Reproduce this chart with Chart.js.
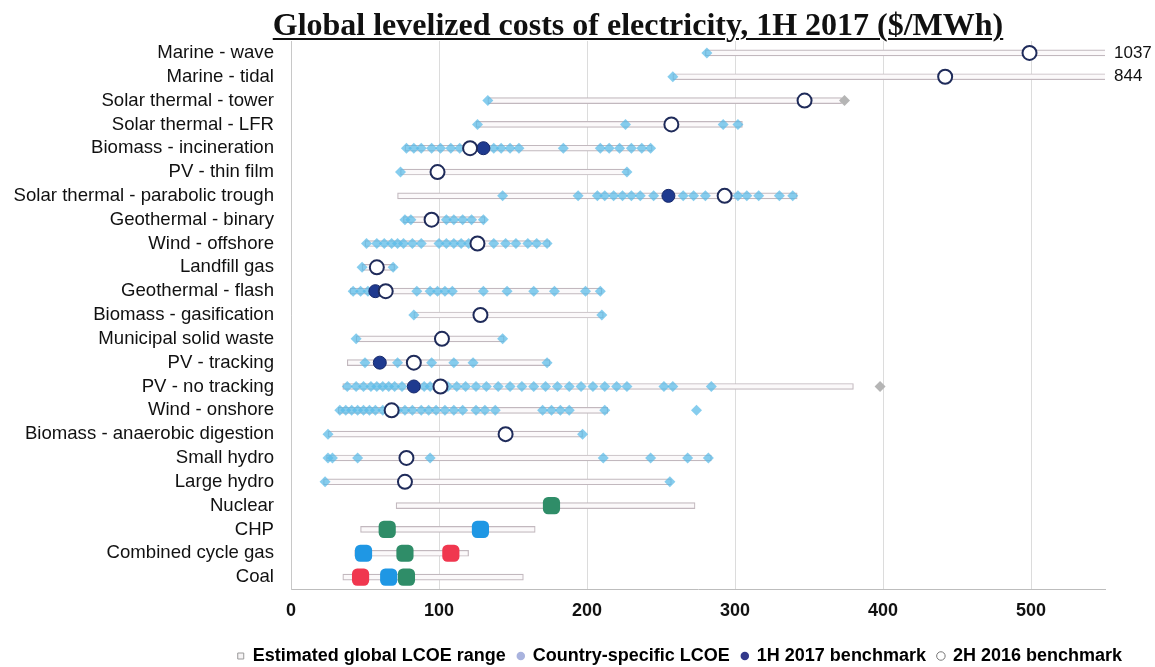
<!DOCTYPE html>
<html>
<head>
<meta charset="utf-8">
<script src="https://cdn.jsdelivr.net/npm/chart.js@4/dist/chart.umd.min.js"></script>
<style>
  html, body { margin: 0; padding: 0; background: #fff; }
  #wrap { position: relative; width: 1155px; height: 667px; }
  #title {
    position: absolute; left: 138px; top: 6px; width: 1000px;
    text-align: center; line-height: 28px;
    font: bold 32px "Liberation Serif", "Times New Roman", serif; color: #111;
    text-decoration: underline; text-decoration-thickness: 2px; text-underline-offset: 3px;
  }
</style>
</head>
<body>
<div id="wrap">
  <canvas id="chart"></canvas>
  <div id="title">Global levelized costs of electricity, 1H 2017 ($/MWh)</div>
</div>
<script>
const CATEGORIES = [
  "Marine - wave", "Marine - tidal", "Solar thermal - tower", "Solar thermal - LFR",
  "Biomass - incineration", "PV - thin film", "Solar thermal - parabolic trough",
  "Geothermal - binary", "Wind - offshore", "Landfill gas", "Geothermal - flash",
  "Biomass - gasification", "Municipal solid waste", "PV - tracking", "PV - no tracking",
  "Wind - onshore", "Biomass - anaerobic digestion", "Small hydro", "Large hydro",
  "Nuclear", "CHP", "Combined cycle gas", "Coal",
];

// estimated global LCOE range ($/MWh)
const RANGE_MIN = [280, 258, 133, 125, 77, 74, 72, 76, 50, 48, 40, 83, 44, 38, 35, 32, 25, 24, 22, 71, 47, 43, 35];
const RANGE_MAX = [1037, 844, 372, 305, 244, 228, 342, 131, 175, 70, 210, 211, 144, 175, 380, 214, 197, 284, 257, 273, 165, 120, 157];

// country-specific LCOE points
const COUNTRY_LCOE = [
  [281],
  [258],
  [133],
  [126, 226, 292, 302],
  [78, 83, 88, 95, 101, 108, 114, 137, 142, 148, 154, 184, 209, 215, 222, 230, 237, 243],
  [74, 227],
  [143, 194, 207, 212, 218, 224, 230, 236, 245, 265, 272, 280, 302, 308, 316, 330, 339],
  [77, 81, 105, 110, 116, 122, 130],
  [51, 58, 63, 68, 72, 76, 82, 88, 100, 105, 110, 115, 120, 137, 145, 152, 160, 166, 173],
  [48, 69],
  [42, 47, 52, 85, 94, 99, 104, 109, 130, 146, 164, 178, 199, 209],
  [83, 210],
  [44, 143],
  [50, 72, 95, 110, 123, 173],
  [38, 44, 49, 54, 58, 62, 66, 70, 75, 90, 94, 106, 112, 118, 125, 132, 140, 148, 156, 164, 172, 180, 188, 196, 204, 212, 220, 227, 252, 258, 284],
  [33, 37, 41, 45, 49, 53, 57, 62, 66, 72, 77, 82, 88, 93, 98, 104, 110, 116, 125, 131, 138, 170, 176, 182, 188, 212, 274],
  [25, 197],
  [25, 28, 45, 94, 211, 243, 268, 282],
  [23, 256],
  [], [], [], [],
];
// grey points off the end of the range
const OUTLIER_LCOE = [null, null, 374, null, null, null, null, null, null, null, null, null, null, null, 398, null, null, null, null, null, null, null, null];

const BENCH_1H_2017 = [null, null, null, null, 130, null, 255, null, null, null, 57, null, null, 60, 83, null, null, null, null, null, null, null, null];
const BENCH_2H_2016 = [499, 442, 347, 257, 121, 99, 293, 95, 126, 58, 64, 128, 102, 83, 101, 68, 145, 78, 77, null, null, null, null];

// regional markers on the thermal rows
const REGION_GREEN = [null, null, null, null, null, null, null, null, null, null, null, null, null, null, null, null, null, null, null, 176, 65, 77, 78];
const REGION_BLUE = [null, null, null, null, null, null, null, null, null, null, null, null, null, null, null, null, null, null, null, null, 128, 49, 66];
const REGION_RED = [null, null, null, null, null, null, null, null, null, null, null, null, null, null, null, null, null, null, null, null, null, 108, 47];

const X_TICKS = [0, 100, 200, 300, 400, 500];
const X_MAX = 550;

const LEGEND_LABELS = ["Estimated global LCOE range", "Country-specific LCOE", "1H 2017 benchmark", "2H 2016 benchmark"];

const SANS = '"Liberation Sans", Arial, sans-serif';

function points(values) {
  const out = [];
  values.forEach((v, i) => { if (v != null) out.push({ x: v, y: CATEGORIES[i] }); });
  return out;
}

function countryPoints() {
  const out = [];
  COUNTRY_LCOE.forEach((list, i) => list.forEach((v) => out.push({ x: v, y: CATEGORIES[i] })));
  return out;
}

function markers(data, style, radius, fill, stroke, width, order) {
  return {
    type: "scatter", data, order,
    pointStyle: style, pointRadius: radius, pointHoverRadius: radius,
    backgroundColor: fill, borderColor: stroke, borderWidth: width,
  };
}

const overflowLabels = {
  id: "overflowLabels",
  afterDatasetsDraw(chart) {
    const { ctx, chartArea, scales } = chart;
    ctx.save();
    ctx.font = "17px " + SANS;
    ctx.fillStyle = "#111";
    ctx.textBaseline = "middle";
    ctx.textAlign = "left";
    RANGE_MAX.forEach((v, i) => {
      if (v > X_MAX) ctx.fillText(String(v), chartArea.right + 9, scales.y.getPixelForValue(i));
    });
    ctx.restore();
  },
};

const LEGEND_STYLE = [
  { pointStyle: "rect", fillStyle: "#f6f4f5", strokeStyle: "#9a9a9a", lineWidth: 1 },
  { pointStyle: "circle", fillStyle: "#a9b3de", strokeStyle: "#a9b3de", lineWidth: 0 },
  { pointStyle: "circle", fillStyle: "#33398a", strokeStyle: "#33398a", lineWidth: 0 },
  { pointStyle: "circle", fillStyle: "#ffffff", strokeStyle: "#777777", lineWidth: 1 },
];

new Chart(document.getElementById("chart"), {
  type: "bar",
  data: {
    labels: CATEGORIES,
    datasets: [
      {
        type: "bar", indexAxis: "y", order: 10,
        data: CATEGORIES.map((c, i) => [RANGE_MIN[i], RANGE_MAX[i]]),
        backgroundColor: "#fbf9fa", borderColor: "#c2b8be", borderWidth: 1.2,
        borderSkipped: false, barThickness: 6,
      },
      markers(countryPoints(), "rectRot", 5.5, "rgba(88,186,232,0.72)", "rgba(88,186,232,0.72)", 0, 6),
      markers(points(OUTLIER_LCOE), "rectRot", 5.5, "#b5b5b5", "#b5b5b5", 0, 6),
      markers(points(BENCH_1H_2017), "circle", 6.5, "#1f3a8f", "#16286a", 1, 2),
      markers(points(BENCH_2H_2016), "circle", 7, "#ffffff", "#1f2b5a", 2, 1),
      markers(points(REGION_GREEN), "rectRounded", 10, "#2f8d68", "#2f8d68", 0, 3),
      markers(points(REGION_BLUE), "rectRounded", 10, "#1f97e4", "#1f97e4", 0, 3),
      markers(points(REGION_RED), "rectRounded", 10, "#f0374f", "#f0374f", 0, 3),
    ],
  },
  plugins: [overflowLabels],
  options: {
    responsive: true,
    maintainAspectRatio: false,
    animation: false,
    layout: { padding: { top: 41, left: 2, right: 21, bottom: -8 } },
    plugins: {
      title: { display: false },
      tooltip: { enabled: false },
      legend: {
        position: "bottom", align: "end",
        labels: {
          usePointStyle: true, boxWidth: 6, boxHeight: 6, padding: 12,
          color: "#111", font: { family: SANS, size: 18, weight: "bold" },
          generateLabels: () => LEGEND_LABELS.map((text, i) => ({ text, hidden: false, ...LEGEND_STYLE[i] })),
        },
      },
    },
    scales: {
      x: {
        type: "linear", min: 0, max: X_MAX, offset: false,
        afterBuildTicks: (s) => { s.ticks = X_TICKS.map((v) => ({ value: v })); },
        afterFit: (s) => { s.height = 46; },
        grid: { color: "#dcdcdc", drawTicks: false, offset: false },
        border: { color: "#bdbdbd" },
        ticks: { padding: 11, color: "#111", font: { family: SANS, size: 18, weight: "bold" } },
      },
      y: {
        type: "category", offset: true,
        afterFit: (s) => { s.width = 289; },
        grid: { display: false, drawTicks: false },
        border: { color: "#c8c8c8" },
        ticks: { padding: 17, color: "#111", autoSkip: false, font: { family: SANS, size: 18.6 } },
      },
      yR: {
        type: "linear", position: "right", display: true,
        afterFit: (s) => { s.width = 29; },
        grid: { display: false }, border: { display: false }, ticks: { display: false },
      },
    },
  },
});
</script>
</body>
</html>
